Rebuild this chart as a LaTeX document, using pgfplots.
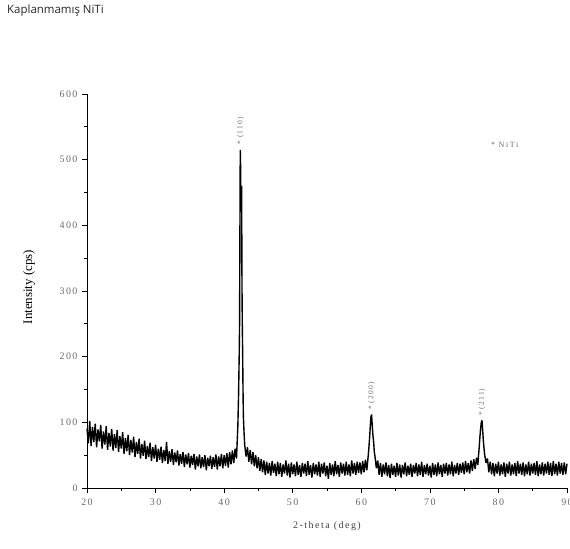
\documentclass[border=0pt]{standalone}
\usepackage{pgfplots}
\pgfplotsset{compat=1.18}
\usepackage{fontspec}
\setmainfont{Liberation Serif}
\newfontfamily\titlefont{Open Sans}
\newfontfamily\tickfont[LetterSpace=15]{Liberation Serif}
\definecolor{tickgray}{gray}{0.42}
\begin{document}
\begin{tikzpicture}[x=1bp,y=1bp]
\useasboundingbox (0,0) rectangle (570,549);
\node[anchor=north west, text=black!85, inner sep=0pt] at (7,544) {\titlefont\fontsize{11.5}{13}\selectfont Kaplanmamış NiTi};
\begin{axis}[
  at={(87bp,61bp)}, anchor=south west,
  scale only axis, width=480bp, height=394bp,
  xmin=20, xmax=90, ymin=0, ymax=600,
  axis x line*=bottom, axis y line*=left,
  axis line style={-, line width=0.7pt},
  xtick={20,30,...,90}, ytick={0,100,...,600},
  minor x tick num=1, minor y tick num=1,
  tick align=outside,
  major tick length=5bp, minor tick length=3bp,
  tick style={black, line width=0.7pt},
  /pgf/number format/assume math mode=true,
  ticklabel style={font=\tickfont\fontsize{10}{11}\selectfont, text=tickgray},
  xticklabel style={yshift=-2bp},
  yticklabel style={xshift=-1bp},
  xlabel={2-theta (deg)},
  ylabel={Intensity (cps)},
  xlabel style={font=\fontsize{10}{11}\selectfont\addfontfeatures{LetterSpace=15}, text=black!75, at={(axis description cs:0.50,-0.096)}, anchor=center},
  ylabel style={font=\fontsize{13}{14}\selectfont, at={(axis description cs:-0.121,0.51)}, anchor=center},
  clip=false,
]
\addplot[black, line width=1.4pt, line join=bevel] coordinates {
(20.0,90)(20.2,68)(20.4,102)(20.6,64)(20.8,93)(21.0,70)(21.2,98)(21.4,62)(21.6,89)(21.8,71)(22.0,96)
(22.2,60)(22.4,86)(22.6,66)(22.8,94)(23.0,58)(23.2,84)(23.4,63)(23.6,90)(23.8,57)(24.0,82)(24.2,61)(24.4,88)(24.6,55)(24.8,79)
(25.0,60)(25.2,85)(25.4,52)(25.6,76)(25.8,56)(26.0,81)(26.2,50)(26.4,73)(26.6,54)(26.8,78)(27.0,47)(27.2,70)(27.4,52)(27.6,75)(27.8,45)
(28.0,67)(28.2,49)(28.4,72)(28.6,44)(28.8,64)(29.0,47)(29.2,69)(29.4,41)(29.6,62)(29.8,45)(30.0,66)(30.2,40)(30.4,60)(30.6,43)(30.8,63)
(31.0,38)(31.2,58)(31.4,41)(31.6,70)(31.8,37)(32.0,56)(32.2,40)(32.4,59)(32.6,35)(32.8,54)(33.0,39)(33.2,57)(33.4,34)(33.6,52)(33.8,37)
(34.0,55)(34.2,32)(34.4,51)(34.6,36)(34.8,53)(35.0,31)(35.2,49)(35.4,35)(35.6,52)(35.8,28)(36.0,48)(36.2,33)(36.4,51)(36.6,30)(36.8,47)
(37.0,32)(37.2,50)(37.4,27)(37.6,46)(37.8,33)(38.0,49)(38.2,29)(38.4,47)(38.6,32)(38.8,51)(39.0,28)(39.2,48)(39.4,33)(39.6,52)(39.8,30)
(40.0,50)(40.2,34)(40.4,53)(40.6,31)(40.8,55)(41.0,36)(41.2,57)(41.4,38)(41.6,60)(41.8,45)(41.9,70)(42.0,95)(42.1,140)(42.2,205)(42.25,250)
(42.3,390)(42.35,515)(42.4,490)(42.45,420)(42.5,455)(42.55,460)(42.6,310)(42.65,245)(42.7,205)(42.75,150)(42.8,110)(42.9,85)(43.0,65)
(43.2,48)(43.4,62)(43.6,40)(43.8,58)(44.0,36)(44.2,55)(44.4,33)(44.6,50)(44.8,30)(45.0,47)(45.2,26)(45.4,44)(45.6,24)(45.8,42)
(46.0,20)(46.2,40)(46.4,22)(46.6,38)(46.8,19)(47.0,41)(47.2,23)(47.4,37)(47.6,18)(47.8,40)(48.0,21)(48.2,38)(48.4,17)(48.6,36)(48.8,22)
(49.0,42)(49.2,19)(49.4,37)(49.6,16)(49.8,39)(50.0,21)(50.2,36)(50.4,18)(50.6,40)(50.8,20)(51.0,35)(51.2,17)(51.4,38)(51.6,22)(51.8,37)
(52.0,18)(52.2,41)(52.4,20)(52.6,35)(52.8,16)(53.0,38)(53.2,21)(53.4,36)(53.6,19)(53.8,40)(54.0,17)(54.2,37)(54.4,22)(54.6,39)(54.8,18)
(55.0,34)(55.2,14)(55.4,38)(55.6,20)(55.8,36)(56.0,18)(56.2,41)(56.4,21)(56.6,35)(56.8,17)(57.0,39)(57.2,22)(57.4,37)(57.6,19)(57.8,40)
(58.0,20)(58.2,36)(58.4,18)(58.6,42)(58.8,22)(59.0,38)(59.2,20)(59.4,40)(59.6,23)(59.8,39)(60.0,21)(60.2,41)(60.4,24)(60.6,43)(60.8,27)
(61.0,48)(61.1,60)(61.2,75)(61.3,92)(61.4,108)(61.5,112)(61.6,95)(61.7,80)(61.8,70)(61.9,55)(62.0,48)(62.2,30)(62.4,42)(62.6,20)(62.8,38)
(63.0,17)(63.2,36)(63.4,21)(63.6,39)(63.8,18)(64.0,35)(64.2,15)(64.4,37)(64.6,20)(64.8,34)(65.0,17)(65.2,38)(65.4,19)(65.6,36)(65.8,16)
(66.0,35)(66.2,21)(66.4,39)(66.6,18)(66.8,34)(67.0,20)(67.2,37)(67.4,17)(67.6,35)(67.8,22)(68.0,38)(68.2,18)(68.4,36)(68.6,20)(68.8,40)
(69.0,17)(69.2,35)(69.4,21)(69.6,37)(69.8,19)(70.0,34)(70.2,16)(70.4,38)(70.6,20)(70.8,36)(71.0,18)(71.2,39)(71.4,21)(71.6,35)(71.8,17)
(72.0,37)(72.2,22)(72.4,38)(72.6,19)(72.8,36)(73.0,21)(73.2,40)(73.4,18)(73.6,35)(73.8,22)(74.0,38)(74.2,20)(74.4,37)(74.6,23)(74.8,39)
(75.0,21)(75.2,41)(75.4,24)(75.6,38)(75.8,22)(76.0,42)(76.2,26)(76.4,44)(76.6,29)(76.8,46)(77.0,35)(77.1,50)(77.2,62)(77.3,78)(77.4,90)
(77.5,100)(77.6,103)(77.7,88)(77.8,72)(77.9,60)(78.0,50)(78.2,38)(78.4,45)(78.6,24)(78.8,40)(79.0,21)(79.2,38)(79.4,18)(79.6,37)(79.8,22)
(80.0,40)(80.2,19)(80.4,36)(80.6,21)(80.8,39)(81.0,17)(81.2,37)(81.4,22)(81.6,40)(81.8,19)(82.0,36)(82.2,21)(82.4,38)(82.6,18)(82.8,41)
(83.0,22)(83.2,37)(83.4,20)(83.6,39)(83.8,18)(84.0,36)(84.2,21)(84.4,40)(84.6,19)(84.8,37)(85.0,22)(85.2,38)(85.4,20)(85.6,41)(85.8,18)
(86.0,36)(86.2,21)(86.4,39)(86.6,19)(86.8,37)(87.0,22)(87.2,40)(87.4,20)(87.6,38)(87.8,18)(88.0,41)(88.2,21)(88.4,37)(88.6,19)(88.8,40)
(89.0,22)(89.2,38)(89.4,20)(89.6,39)(89.8,21)(90.0,37)
};
\node[rotate=90, anchor=west, inner sep=0.5pt, text=tickgray, font=\fontsize{7.5}{8}\selectfont\addfontfeatures{LetterSpace=15}] at (axis cs:42.4,522) {* (110)};
\node[rotate=90, anchor=west, inner sep=0.5pt, text=tickgray, font=\fontsize{7.5}{8}\selectfont\addfontfeatures{LetterSpace=15}] at (axis cs:61.5,118) {* (200)};
\node[rotate=90, anchor=west, inner sep=0.5pt, text=tickgray, font=\fontsize{7.5}{8}\selectfont\addfontfeatures{LetterSpace=15}] at (axis cs:77.6,109) {* (211)};
\node[anchor=west, inner sep=0pt, text=tickgray, font=\fontsize{8}{9}\selectfont\addfontfeatures{LetterSpace=20}] at (axis cs:78.9,522) {* NiTi};
\end{axis}
\end{tikzpicture}
\end{document}
